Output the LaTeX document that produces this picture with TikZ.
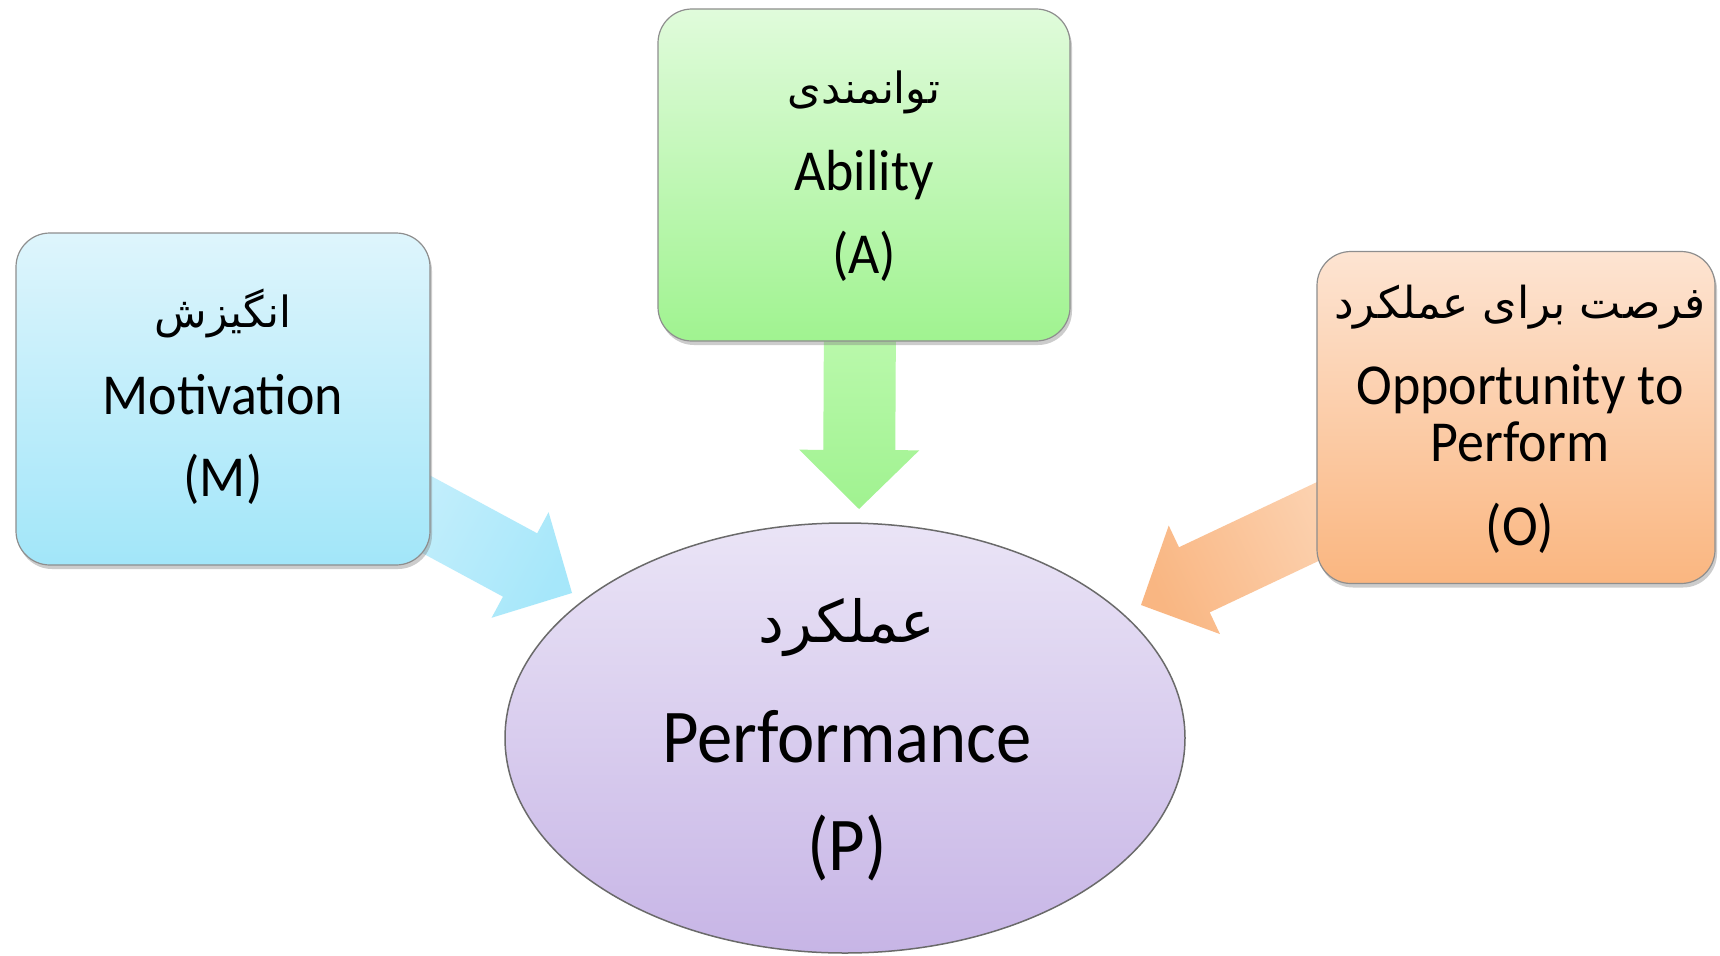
\documentclass[tikz,border=0pt]{standalone}
\usepackage{fontspec}
\setmainfont[FakeStretch=0.93]{Carlito}
\newfontfamily\fa[Script=Arabic]{DejaVu Sans}
\TeXXeTstate=1
\usetikzlibrary{shapes.geometric,shadows,calc}

\definecolor{mTop}{HTML}{DEF5FC}
\definecolor{mBot}{HTML}{A2E6F9}
\definecolor{aTop}{HTML}{E0FBDB}
\definecolor{aBot}{HTML}{A0F390}
\definecolor{oTop}{HTML}{FDE4D2}
\definecolor{oBot}{HTML}{FAB680}
\definecolor{pTop}{HTML}{EAE4F6}
\definecolor{pBot}{HTML}{C7B5E6}
\definecolor{mTail}{HTML}{C6EFFC}
\definecolor{mHead}{HTML}{A6E7FA}
\definecolor{aTail}{HTML}{BEFAB0}
\definecolor{aHead}{HTML}{A0F290}
\definecolor{oTail}{HTML}{FCD3B2}
\definecolor{oHead}{HTML}{F9B682}
\definecolor{edgegray}{HTML}{8E8E8E}
\definecolor{ellgray}{HTML}{6A6A6A}

% block arrow from tail coordinate #1 to tip coordinate #2
\newcommand\blockarrow[5]{%
  \path (#1) coordinate (ba-t) (#2) coordinate (ba-h);
  \path ($(ba-h)!59pt!(ba-t)$) coordinate (ba-b);
  \shade[top color=#4, bottom color=#3, shading angle=#5]
    ($(ba-t)!36pt!90:(ba-h)$) -- ($(ba-b)!36pt!-90:(ba-t)$) --
    ($(ba-b)!60pt!-90:(ba-t)$) -- (ba-h) --
    ($(ba-b)!60pt!90:(ba-t)$) -- ($(ba-b)!36pt!90:(ba-t)$) --
    ($(ba-t)!36pt!-90:(ba-h)$) -- cycle;
}

\begin{document}
\begin{tikzpicture}[x=1pt,y=-1pt,
  boxnode/.style={rectangle, rounded corners=34pt, draw=edgegray, line width=1.2pt,
    minimum height=332pt, inner sep=0pt,
    drop shadow={shadow xshift=2pt, shadow yshift=-4pt, opacity=0.4}},
  lat/.style={font=\fontsize{58}{60}\selectfont, anchor=base, inner sep=0pt},
  big/.style={font=\fontsize{76}{80}\selectfont, anchor=base, inner sep=0pt},
  per/.style={font=\fa\fontsize{43}{46}\selectfont, anchor=base, inner sep=0pt},
  perbig/.style={font=\fa\fontsize{58}{62}\selectfont, anchor=base, inner sep=0pt}]

\fill[white] (0,0) rectangle (1720,955);
\useasboundingbox (0,0) rectangle (1720,955);

% arrow end points
\coordinate (mStart) at (396,498);
\coordinate (mEnd)   at (572,593);
\coordinate (aStart) at (860,309);
\coordinate (aEnd)   at (859,509);
\coordinate (oStart) at (1340,511);
\coordinate (oEnd)   at (1141,605);

\blockarrow{mStart}{mEnd}{mTail}{mHead}{-118.3}
\blockarrow{aStart}{aEnd}{aTail}{aHead}{180}
\blockarrow{oStart}{oEnd}{oTail}{oHead}{115.2}

% boxes
\node[boxnode, minimum width=414pt, top color=mTop, bottom color=mBot] (M) at (223,399) {};
\node[boxnode, minimum width=412pt, top color=aTop, bottom color=aBot] (A) at (864,175) {};
\node[boxnode, minimum width=398pt, top color=oTop, bottom color=oBot] (O) at (1516,417.5) {};

% ellipse
\node[ellipse, draw=ellgray, line width=1.5pt, top color=pTop, bottom color=pBot,
      minimum width=680pt, minimum height=430pt, inner sep=0pt] (P) at (845,738) {};

% texts
\node[per] (Mfa) at (223,327) {\beginR انگیزش\endR};
\node[lat] (Men) at (223,414) {Motivation};
\node[lat] (Mab) at (223,496) {(M)};

\node[per] (Afa) at (864,104) {\beginR توانمندی\endR};
\node[lat] (Aen) at (864,190) {Ability};
\node[lat] (Aab) at (864,273) {(A)};

\node[per, font=\fa\fontsize{44}{46}\selectfont] (Ofa) at (1520,318) {\beginR فرصت برای عملکرد\endR};
\node[lat] (Oen) at (1520,404) {Opportunity to};
\node[lat] (Oen2) at (1520,461) {Perform};
\node[lat] (Oab) at (1520,545) {(O)};

\node[perbig] (Pfa) at (847,642) {\beginR عملکرد\endR};
\node[big] (Pen) at (847,762) {Performance};
\node[big] (Pab) at (847,870) {(P)};
\end{tikzpicture}
\end{document}
